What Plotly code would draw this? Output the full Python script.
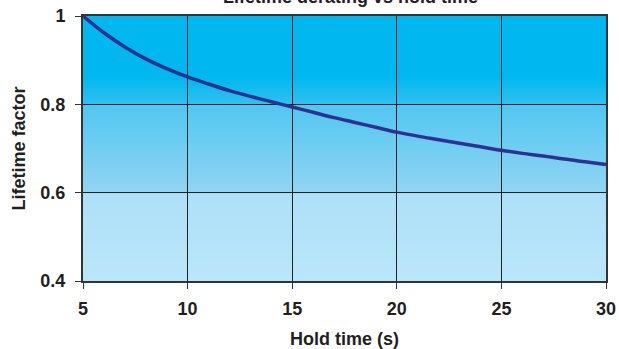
import base64
import struct
import zlib

import plotly.graph_objects as go

# Data
hold_time = [5, 6, 7, 8, 9, 10, 11, 12, 13, 14, 15, 16, 17, 18, 19, 20,
             21, 22, 23, 24, 25, 26, 27, 28, 29, 30]
lifetime_factor = [1.000, 0.962, 0.930, 0.903, 0.881, 0.862, 0.846, 0.831,
                   0.818, 0.806, 0.794, 0.782, 0.770, 0.759, 0.748, 0.737,
                   0.728, 0.720, 0.712, 0.704, 0.696, 0.689, 0.683, 0.676,
                   0.670, 0.664]
x_ticks = [5, 10, 15, 20, 25, 30]
y_ticks = [0.4, 0.6, 0.8, 1.0]

title_text = "Lifetime derating vs hold time"
x_title = "Hold time (s)"
y_title = "Lifetime factor"

# Background gradient styling (value -> colour stops)
grad_stops = [(0.40, (0xba, 0xe6, 0xfa)), (0.598, (0xad, 0xe0, 0xf7)),
              (0.602, (0x92, 0xd4, 0xf3)), (0.798, (0x50, 0xc7, 0xf1)),
              (0.802, (0x30, 0xc0, 0xf0)), (0.86, (0x00, 0xb8, 0xef)),
              (1.00, (0x00, 0xb8, 0xef))]


def colour_at(v):
    for (a, ca), (b, cb) in zip(grad_stops[:-1], grad_stops[1:]):
        if a <= v <= b:
            t = (v - a) / (b - a) if b > a else 0
            return [round(ca[i] + (cb[i] - ca[i]) * t) for i in range(3)]
    return [0, 184, 239]


def gradient_png(rows=600):
    y0, y1 = y_ticks[0], y_ticks[-1]
    raw = b""
    for r in range(rows):
        v = y1 - (r + 0.5) / rows * (y1 - y0)
        c = colour_at(v)
        raw += b"\x00" + bytes(c) * 2

    def chunk(tag, data):
        return (struct.pack(">I", len(data)) + tag + data +
                struct.pack(">I", zlib.crc32(tag + data) & 0xffffffff))
    png = b"\x89PNG\r\n\x1a\n"
    png += chunk(b"IHDR", struct.pack(">IIBBBBB", 2, rows, 8, 2, 0, 0, 0))
    png += chunk(b"IDAT", zlib.compress(raw, 9))
    png += chunk(b"IEND", b"")
    return "data:image/png;base64," + base64.b64encode(png).decode()


fig = go.Figure()
fig.add_trace(go.Scatter(x=hold_time, y=lifetime_factor, mode="lines",
                         line=dict(color="#2e3192", width=3.5, shape="spline"),
                         cliponaxis=False, showlegend=False, hoverinfo="skip"))

font_family = "Liberation Sans, Arial, sans-serif"

fig.update_layout(
    width=619, height=349,
    margin=dict(l=83, r=13, t=16, b=68, autoexpand=False),
    paper_bgcolor="white", plot_bgcolor="white",
    images=[dict(source=gradient_png(), xref="paper", yref="paper",
                 x=0, y=1, sizex=1, sizey=1, xanchor="left", yanchor="top",
                 sizing="stretch", layer="below")],
    font=dict(family=font_family, color="#231f20", size=18),
    annotations=[dict(text="<b>%s</b>" % title_text, xref="paper", yref="paper",
                      x=0.511, y=1.070, xanchor="center", yanchor="middle",
                      showarrow=False, font=dict(size=18, color="#231f20"))],
)
fig.update_xaxes(range=[x_ticks[0], x_ticks[-1]], tickvals=x_ticks,
                 ticktext=["<b>%g</b>" % v for v in x_ticks],
                 showgrid=True, gridcolor="#222222", gridwidth=1,
                 showline=True, linecolor="#333333", linewidth=2, mirror=True,
                 ticks="outside", ticklen=6, tickcolor="#333333", tickwidth=1,
                 zeroline=False, ticklabelstandoff=4, automargin=False,
                 title=dict(text="<b>%s</b>" % x_title, standoff=17,
                            font=dict(size=18)))
fig.update_yaxes(range=[y_ticks[0], y_ticks[-1]], tickvals=y_ticks,
                 ticktext=["<b>%g</b>" % v for v in y_ticks],
                 showgrid=True, gridcolor="#222222", gridwidth=1,
                 showline=True, linecolor="#333333", linewidth=2, mirror=True,
                 ticks="outside", ticklen=6, tickcolor="#333333", tickwidth=1,
                 zeroline=False, ticklabelstandoff=6, automargin=False,
                 title=dict(text="<b>%s</b>" % y_title, standoff=10,
                            font=dict(size=18)))

fig.write_html("out.html")
